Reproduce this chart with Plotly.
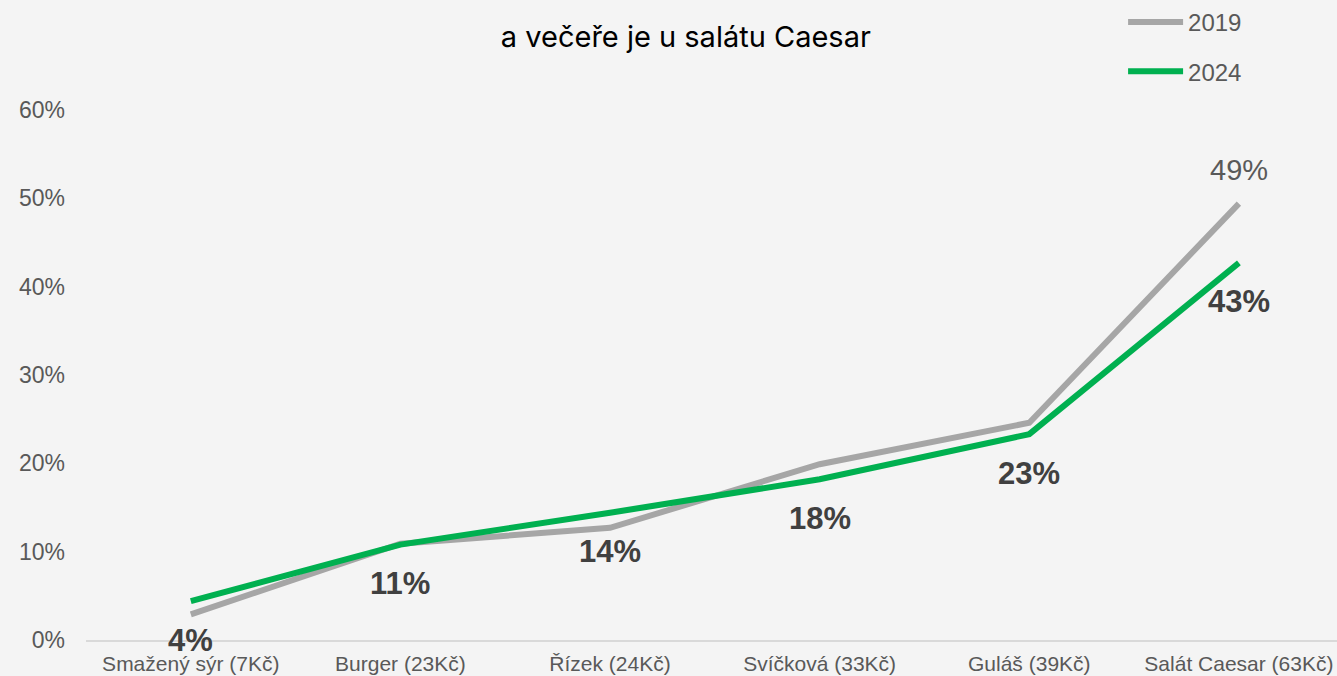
import plotly.graph_objects as go

jidla = ['Smažený sýr (7Kč)', 'Burger (23Kč)', 'Řízek (24Kč)', 'Svíčková (33Kč)', 'Guláš (39Kč)', 'Salát Caesar (63Kč)']
podil_2019 = [0.029, 0.109, 0.127, 0.199, 0.246, 0.494]
podil_2024 = [0.044, 0.108, 0.144, 0.182, 0.233, 0.427]
popisky_2024 = ['4%', '11%', '14%', '18%', '23%', '43%']
popisek_2019 = '49%'

bg = "#f4f4f4"
sediva = "#a6a6a6"
zelena = "#00b050"
font = "Liberation Sans, Arial, sans-serif"

fig = go.Figure()
fig.add_trace(go.Scatter(x=jidla, y=podil_2019, mode='lines', name='2019', legendgroup='a',
                         line=dict(color=sediva, width=6)))
fig.add_trace(go.Scatter(x=jidla, y=podil_2024, mode='lines', name='2024', legendgroup='b',
                         line=dict(color=zelena, width=6)))

# popisky 2024 pod body
for j, v, t in zip(jidla, podil_2024, popisky_2024):
    fig.add_annotation(x=j, y=v, text='<b>' + t + '</b>', showarrow=False, yshift=-39,
                       font=dict(family=font, size=31, color="#404040"))
# popisek 2019 jen u posledniho bodu
fig.add_annotation(x=jidla[-1], y=podil_2019[-1], text=popisek_2019, showarrow=False, yshift=34,
                   font=dict(family=font, size=29, color="#595959"))

fig.update_layout(
    width=1337, height=676,
    margin=dict(t=110, l=86, r=0, b=36, autoexpand=False),
    paper_bgcolor=bg, plot_bgcolor=bg,
    font=dict(family=font, color="#595959"),
    title=dict(text='a večeře je u salátu Caesar', x=0.513, xanchor='center', y=0.945, yanchor='middle',
               xref='container', yref='container',
               font=dict(family='Inter, Open Sans, sans-serif', size=29, color='black')),
    showlegend=True,
    legend=dict(xref='container', yref='container', x=0.840, y=1.025, xanchor='left', yanchor='top',
                font=dict(size=24, color="#595959"), tracegroupgap=15, bgcolor='rgba(0,0,0,0)',
                itemwidth=55),
    xaxis=dict(range=[-0.5, 5.468], showgrid=False, zeroline=False, showline=True,
               linecolor="#d9d9d9", linewidth=2, ticks='', ticklabelstandoff=4,
               tickfont=dict(size=21, color="#595959")),
    yaxis=dict(range=[0, 0.6], dtick=0.1, tickformat='.0%', showgrid=False, zeroline=False,
               showline=False, ticks='', ticklabelstandoff=20, tickfont=dict(size=23, color="#595959")),
)

# bez okraje stranky, at graf vyplni cele okno
fig.write_html("out.html", config={'displayModeBar': False},
               post_script="document.body.style.margin='0';")
